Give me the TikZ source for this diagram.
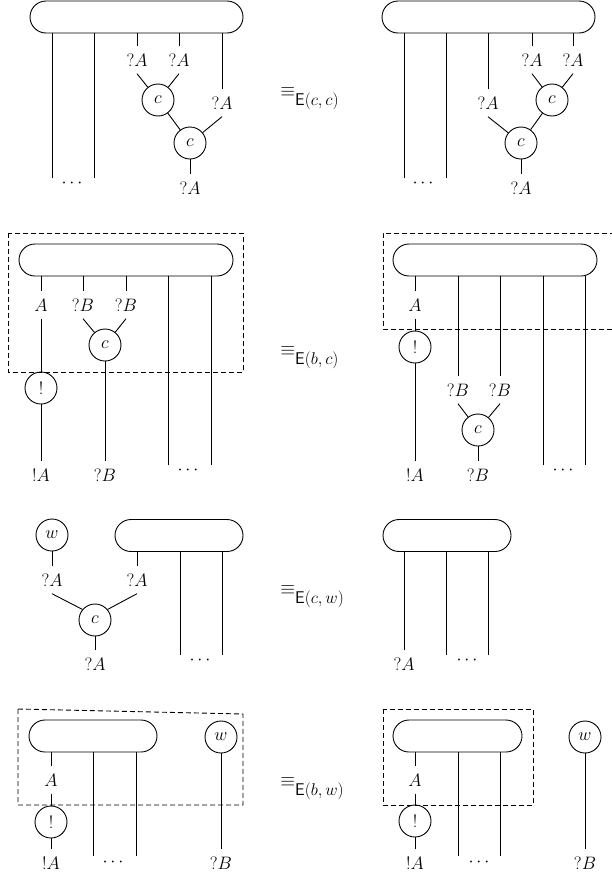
\RequirePackage{fix-cm}
\documentclass[tikz,border=0pt]{standalone}
% equivalence sign with its rule name set almost at full size
\newcommand\eqE[1]{{\fontsize{19}{22}\selectfont\raisebox{8.5pt}{$\equiv$}}{\fontsize{17}{20}\selectfont$\mathsf{E}(#1)$}}
\begin{document}
\begin{tikzpicture}[x=1pt,y=-1pt,
  font=\fontsize{18}{21}\selectfont,
  line width=0.9pt,
  pill/.style={draw, rectangle, rounded corners=16pt, minimum height=32pt, inner sep=0pt},
  gate/.style={draw, circle, minimum size=32pt, inner sep=0pt},
  lab/.style={inner sep=7pt},
  dotsnode/.style={inner sep=0pt},
  frame/.style={dash pattern=on 5pt off 3pt},
  eqv/.style={anchor=base west, inner sep=0pt}]
\useasboundingbox (0,0) rectangle (611,881);

% ---------- E(c,c): left side ----------
\node[pill, minimum width=213pt] (P1) at (136.5,17) {};
\coordinate (P1e1) at (52,178);
\coordinate (P1e2) at (94,178);
\draw (P1.south -| P1e1) -- (P1e1);
\draw (P1.south -| P1e2) -- (P1e2);
\node[lab] (P1a) at (137,60) {$?A$};
\node[lab] (P1b) at (179,60) {$?A$};
\node[lab] (P1c) at (222,103) {$?A$};
\draw (P1.south -| P1a) -- (P1a);
\draw (P1.south -| P1b) -- (P1b);
\draw (P1.south -| P1c) -- (P1c);
\node[gate] (P1g1) at (158,100) {$c$};
\node[gate] (P1g2) at (190,143) {$c$};
\draw (P1a.south) -- (P1g1);
\draw (P1b.south) -- (P1g1);
\draw (P1g1) -- (P1g2);
\draw (P1c.south) -- (P1g2);
\node[lab] (P1d) at (190,188) {$?A$};
\draw (P1g2) -- (P1d);
\node[dotsnode] (P1dots) at (72,183) {$\cdots$};

\node[eqv] (E1) at (280,105) {\eqE{c,c}};

% ---------- E(c,c): right side ----------
\node[pill, minimum width=213pt] (Q1) at (488.5,17) {};
\coordinate (Q1e1) at (404,178);
\coordinate (Q1e2) at (446,178);
\draw (Q1.south -| Q1e1) -- (Q1e1);
\draw (Q1.south -| Q1e2) -- (Q1e2);
\node[lab] (Q1a) at (532,60) {$?A$};
\node[lab] (Q1b) at (573,60) {$?A$};
\node[lab] (Q1c) at (488,103) {$?A$};
\draw (Q1.south -| Q1a) -- (Q1a);
\draw (Q1.south -| Q1b) -- (Q1b);
\draw (Q1.south -| Q1c) -- (Q1c);
\node[gate] (Q1g1) at (552,100) {$c$};
\node[gate] (Q1g2) at (521,143) {$c$};
\draw (Q1a.south) -- (Q1g1);
\draw (Q1b.south) -- (Q1g1);
\draw (Q1g1) -- (Q1g2);
\draw (Q1c.south) -- (Q1g2);
\node[lab] (Q1d) at (521,188) {$?A$};
\draw (Q1g2) -- (Q1d);
\node[dotsnode] (Q1dots) at (423,183) {$\cdots$};

% ---------- E(b,c): left side ----------
\draw[frame] (8,233) rectangle (243,372);
\node[pill, minimum width=214pt] (P2) at (126,260) {};
\node[lab] (P2a) at (41,305) {$A$};
\draw (P2.south -| P2a) -- (P2a);
\node[gate] (P2bang) at (41,388) {!};
\draw (P2a) -- (P2bang);
\node[lab] (P2oA) at (41,475) {$!A$};
\draw (P2bang) -- (P2oA);
\node[lab] (P2b) at (83,305) {$?B$};
\node[lab] (P2c) at (126,305) {$?B$};
\draw (P2.south -| P2b) -- (P2b);
\draw (P2.south -| P2c) -- (P2c);
\node[gate] (P2g) at (105,345) {$c$};
\draw (P2b.south) -- (P2g);
\draw (P2c.south) -- (P2g);
\node[lab] (P2oB) at (105,475) {$?B$};
\draw (P2g) -- (P2oB);
\coordinate (P2e1) at (168,465);
\coordinate (P2e2) at (211,465);
\draw (P2.south -| P2e1) -- (P2e1);
\draw (P2.south -| P2e2) -- (P2e2);
\node[dotsnode] (P2dots) at (188,470) {$\cdots$};

\node[eqv] (E2) at (280,364) {\eqE{b,c}};

% ---------- E(b,c): right side ----------
\draw[frame] (615,233) -- (383,233) -- (383,329) -- (615,329);
\node[pill, minimum width=204pt] (Q2) at (495,260) {};
\node[lab] (Q2a) at (415,305) {$A$};
\draw (Q2.south -| Q2a) -- (Q2a);
\node[gate] (Q2bang) at (415,347) {!};
\draw (Q2a) -- (Q2bang);
\node[lab] (Q2oA) at (415,475) {$!A$};
\draw (Q2bang) -- (Q2oA);
\node[lab] (Q2b) at (458,390) {$?B$};
\node[lab] (Q2c) at (500,390) {$?B$};
\draw (Q2.south -| Q2b) -- (Q2b);
\draw (Q2.south -| Q2c) -- (Q2c);
\node[gate] (Q2g) at (478,430) {$c$};
\draw (Q2b.south) -- (Q2g);
\draw (Q2c.south) -- (Q2g);
\node[lab] (Q2oB) at (478,475) {$?B$};
\draw (Q2g) -- (Q2oB);
\coordinate (Q2e1) at (543,465);
\coordinate (Q2e2) at (585,465);
\draw (Q2.south -| Q2e1) -- (Q2e1);
\draw (Q2.south -| Q2e2) -- (Q2e2);
\node[dotsnode] (Q2dots) at (563,470) {$\cdots$};

% ---------- E(c,w): left side ----------
\node[gate] (P3w) at (52,535) {$w$};
\node[lab] (P3a) at (52,580) {$?A$};
\draw (P3w) -- (P3a);
\node[pill, minimum width=128pt] (P3) at (179,535.5) {};
\node[lab] (P3b) at (137,580) {$?A$};
\draw (P3.south -| P3b) -- (P3b);
\node[gate] (P3g) at (95,620) {$c$};
\draw (P3a.south) -- (P3g.140);
\draw (P3b.south) -- (P3g.40);
\node[lab] (P3o) at (95,664) {$?A$};
\draw (P3g) -- (P3o);
\coordinate (P3e1) at (180,655);
\coordinate (P3e2) at (222,655);
\draw (P3.south -| P3e1) -- (P3e1);
\draw (P3.south -| P3e2) -- (P3e2);
\node[dotsnode] (P3dots) at (200,660) {$\cdots$};

\node[eqv] (E3) at (280,603) {\eqE{c,w}};

% ---------- E(c,w): right side ----------
\node[pill, minimum width=128pt] (Q3) at (447,535.5) {};
\node[lab] (Q3o) at (404,664) {$?A$};
\draw (Q3.south -| Q3o) -- (Q3o);
\coordinate (Q3e1) at (446,655);
\coordinate (Q3e2) at (488,655);
\draw (Q3.south -| Q3e1) -- (Q3e1);
\draw (Q3.south -| Q3e2) -- (Q3e2);
\node[dotsnode] (Q3dots) at (467,660) {$\cdots$};

% ---------- E(b,w): left side ----------
\draw[frame] (18,709) -- (243,714) -- (243,805) -- (18,805) -- cycle;
\node[pill, minimum width=128pt] (P4) at (93,736) {};
\node[lab] (P4a) at (51,780) {$A$};
\draw (P4.south -| P4a) -- (P4a);
\node[gate] (P4bang) at (51,822) {!};
\draw (P4a) -- (P4bang);
\node[lab] (P4oA) at (51,863) {$!A$};
\draw (P4bang) -- (P4oA);
\coordinate (P4e1) at (93,856);
\coordinate (P4e2) at (136,856);
\draw (P4.south -| P4e1) -- (P4e1);
\draw (P4.south -| P4e2) -- (P4e2);
\node[dotsnode] (P4dots) at (113,862) {$\cdots$};
\node[gate] (P4w) at (221,737) {$w$};
\node[lab] (P4oB) at (221,863) {$?B$};
\draw (P4w) -- (P4oB);

\node[eqv] (E4) at (280,795) {\eqE{b,w}};

% ---------- E(b,w): right side ----------
\draw[frame] (383,709) rectangle (533,805);
\node[pill, minimum width=129pt] (Q4) at (457.5,736) {};
\node[lab] (Q4a) at (415,780) {$A$};
\draw (Q4.south -| Q4a) -- (Q4a);
\node[gate] (Q4bang) at (415,821) {!};
\draw (Q4a) -- (Q4bang);
\node[lab] (Q4oA) at (415,863) {$!A$};
\draw (Q4bang) -- (Q4oA);
\coordinate (Q4e1) at (458,856);
\coordinate (Q4e2) at (500,856);
\draw (Q4.south -| Q4e1) -- (Q4e1);
\draw (Q4.south -| Q4e2) -- (Q4e2);
\node[dotsnode] (Q4dots) at (479,862) {$\cdots$};
\node[gate] (Q4w) at (585,737) {$w$};
\node[lab] (Q4oB) at (585,863) {$?B$};
\draw (Q4w) -- (Q4oB);
\end{tikzpicture}
\end{document}
